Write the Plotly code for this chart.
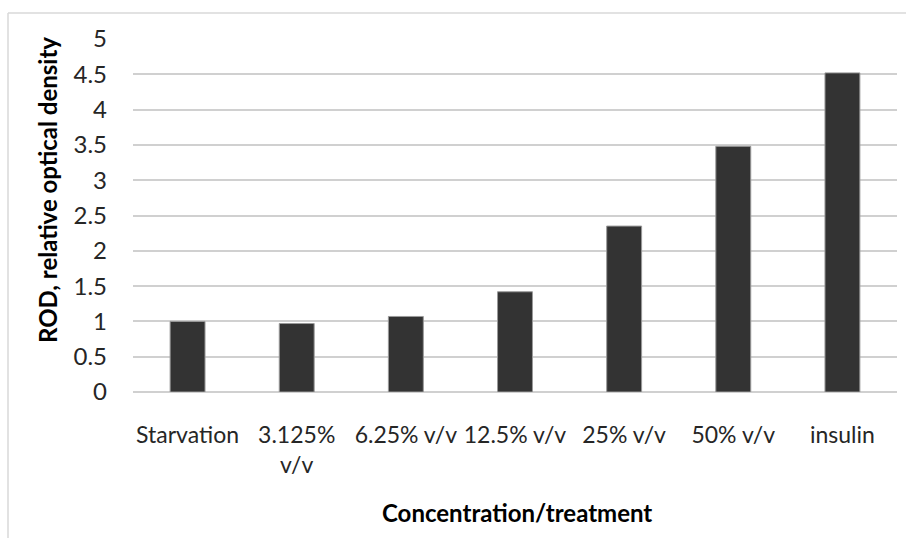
import plotly.graph_objects as go

categories = ["Starvation", "3.125%<br>v/v", "6.25% v/v", "12.5% v/v", "25% v/v", "50% v/v", "insulin"]
rod_values = [1.0, 0.97, 1.07, 1.42, 2.35, 3.48, 4.52]
y_ticks = [0, 0.5, 1, 1.5, 2, 2.5, 3, 3.5, 4, 4.5, 5]
y_tick_labels = ["0", "0.5", "1", "1.5", "2", "2.5", "3", "3.5", "4", "4.5", "5"]
x_title = "Concentration/treatment"
y_title = "ROD, relative optical density"

W, H = 906, 538
ml, mr, mt, mb = 133, 9, 39, 146
pw = W - ml - mr
ph = H - mt - mb

fig = go.Figure(
    go.Bar(
        x=categories,
        y=rod_values,
        marker=dict(color="#333333", line=dict(color="#9a9a9a", width=1)),
    )
)

# outer chart frame (top and left edges visible)
fx0 = (8 - ml) / pw
fy0 = 1 + (mt - 13) / ph
fig.add_shape(type="line", xref="paper", yref="paper", x0=fx0, x1=1 + mr / pw,
              y0=fy0, y1=fy0, line=dict(color="#d9d9d9", width=1.5))
fig.add_shape(type="line", xref="paper", yref="paper", x0=fx0, x1=fx0,
              y0=fy0, y1=-mb / ph, line=dict(color="#d9d9d9", width=1.5))

font_family = "Lato, Open Sans, sans-serif"
fs = 23

fig.add_annotation(text="<b>" + x_title + "</b>", xref="paper", yref="paper",
                   x=(517 - ml) / pw, y=-(512 - (H - mb)) / ph,
                   xanchor="center", yanchor="middle", showarrow=False,
                   font=dict(size=24, color="#000000", family=font_family))
fig.add_annotation(text="<b>" + y_title + "</b>", xref="paper", yref="paper",
                   x=(47 - ml) / pw, y=((H - mb) - 190) / ph, textangle=-90,
                   xanchor="center", yanchor="middle", showarrow=False,
                   font=dict(size=24, color="#000000", family=font_family))

fig.update_layout(
    width=W, height=H,
    margin=dict(l=ml, r=mr, t=mt, b=mb, autoexpand=False),
    paper_bgcolor="white", plot_bgcolor="white",
    bargap=0.68,
    showlegend=False,
    font=dict(family=font_family, size=fs, color="#262626"),
    xaxis=dict(
        showgrid=False, showline=False, zeroline=False,
        ticks="", ticklabelstandoff=27, tickangle=0, automargin=False,
        tickfont=dict(size=fs, color="#262626"),
    ),
    yaxis=dict(
        range=[0, 5], tickvals=y_ticks, ticktext=y_tick_labels,
        showgrid=True, gridcolor="#d0d0d0", gridwidth=1.5,
        zeroline=True, zerolinecolor="#d0d0d0", zerolinewidth=1.5,
        showline=False, ticks="", ticklabelstandoff=25, automargin=False,
        tickfont=dict(size=24, color="#262626"),
    ),
)

fig.write_html("out.html", config={"displayModeBar": False},
               post_script="document.body.style.margin='0px';document.body.style.overflow='hidden';")
